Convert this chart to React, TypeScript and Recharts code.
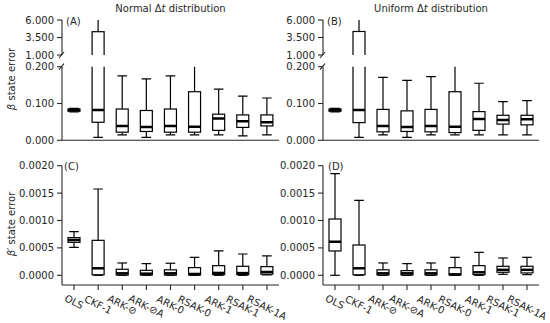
import React from "react";
import { BarChart, Bar, XAxis, YAxis } from "recharts";

const W = 550;
const H = 323;
const YW = 50;
const INK = "#262626";
const FONT = "DejaVu Sans";

const methods = ["OLS", "CKF-1", "ARK-⊘", "ARK-⊘A", "ARK-0", "RSAK-0", "ARK-1", "RSAK-1", "RSAK-1A"];

// [low whisker, q1, median, q3, high whisker] for each method
const betaNormal = [
  [0.077, 0.079, 0.082, 0.085, 0.087],
  [0.008, 0.049, 0.082, 4.33, 6.5],
  [0.015, 0.022, 0.039, 0.085, 0.175],
  [0.008, 0.024, 0.036, 0.081, 0.167],
  [0.015, 0.022, 0.039, 0.085, 0.175],
  [0.015, 0.022, 0.037, 0.132, 0.23],
  [0.015, 0.027, 0.059, 0.071, 0.139],
  [0.012, 0.035, 0.052, 0.069, 0.12],
  [0.015, 0.039, 0.049, 0.069, 0.115],
];

const betaUniform = [
  [0.077, 0.079, 0.082, 0.085, 0.087],
  [0.008, 0.048, 0.082, 4.36, 6.5],
  [0.015, 0.023, 0.039, 0.084, 0.171],
  [0.008, 0.024, 0.036, 0.08, 0.163],
  [0.015, 0.023, 0.039, 0.084, 0.173],
  [0.015, 0.021, 0.037, 0.132, 0.23],
  [0.015, 0.027, 0.058, 0.078, 0.155],
  [0.015, 0.044, 0.055, 0.068, 0.105],
  [0.015, 0.042, 0.057, 0.068, 0.108],
];

const dBetaNormal = [
  [0.00051, 0.000602, 0.000645, 0.000687, 0.000797],
  [0, 0.00001, 0.000128, 0.000638, 0.001575],
  [0, 0.000006, 0.000036, 0.00011, 0.000225],
  [0, 0.000006, 0.00003, 0.000091, 0.000213],
  [0, 0.000006, 0.000036, 0.0001, 0.00022],
  [0, 0.000006, 0.000024, 0.00014, 0.000328],
  [0, 0.000012, 0.000043, 0.000176, 0.000444],
  [0, 0.000012, 0.00004, 0.000164, 0.000389],
  [0.000006, 0.00002, 0.00006, 0.000158, 0.000353],
];

const dBetaUniform = [
  [0, 0.000444, 0.000614, 0.001027, 0.001855],
  [0, 0.00001, 0.000128, 0.000553, 0.001368],
  [0, 0.000006, 0.000036, 0.0001, 0.000225],
  [0, 0.000006, 0.000036, 0.000085, 0.000213],
  [0, 0.000006, 0.000036, 0.0001, 0.000225],
  [0, 0.000006, 0.000018, 0.00014, 0.000328],
  [0, 0.000012, 0.000055, 0.000176, 0.00042],
  [0.000018, 0.000055, 0.0001, 0.000164, 0.000316],
  [0.000012, 0.000043, 0.0001, 0.000164, 0.000328],
];

const upperTicks = [1, 3.5, 6];
const lowerTicks = [0, 0.1, 0.2];
const smallTicks = [0, 0.0005, 0.001, 0.0015, 0.002];

// box drawn inside the bar that spans low..high whisker
const BoxShape = (props: any) => {
  const { x, y, width, height, payload } = props;
  if (x == null || y == null || !payload) return null;
  const [lo, q1, med, q3, hi] = payload.stats;
  const top = Math.min(y, y + height);
  const bot = Math.max(y, y + height);
  const py = (v: number) => bot - ((v - lo) / (hi - lo)) * (bot - top);
  const cx = x + width / 2;
  const cap = width * 0.4;
  return (
    <g stroke="#000" fill="none" strokeWidth={1.2}>
      <line x1={cx} x2={cx} y1={py(hi)} y2={py(q3)} />
      <line x1={cx} x2={cx} y1={py(q1)} y2={py(lo)} />
      <line x1={cx - cap} x2={cx + cap} y1={py(hi)} y2={py(hi)} />
      <line x1={cx - cap} x2={cx + cap} y1={py(lo)} y2={py(lo)} />
      <rect x={x} y={py(q3)} width={width} height={py(q1) - py(q3)} fill="#fff" />
      <line x1={x} x2={x + width} y1={py(med)} y2={py(med)} strokeWidth={2.5} />
    </g>
  );
};

const SlantTick = (props: any) => {
  const { x, y, payload } = props;
  const label = String(payload.value);
  const a = (27 * Math.PI) / 180;
  const w = label.length * 6.4;
  const cy = y + 2 + (w * Math.sin(a) + 10 * Math.cos(a)) / 2;
  return (
    <text
      x={x}
      y={cy}
      transform={`rotate(27, ${x}, ${cy})`}
      textAnchor="middle"
      dominantBaseline="central"
      fontSize={10}
      fontFamily={FONT}
      fill={INK}
    >
      {label}
    </text>
  );
};

type Plot = { left: number; right: number; top: number; bottom: number };

function Panel(p: {
  stats: number[][];
  plot: Plot;
  domain: [number, number];
  ticks: number[];
  digits: number;
  axis: "none" | "plain" | "labels";
  breakAt?: number;
}) {
  const rows = methods.map((name, i) => ({
    name,
    range: [p.stats[i][0], p.stats[i][4]],
    stats: p.stats[i],
  }));
  const xh = p.axis === "none" ? 0 : p.axis === "plain" ? 10 : 40;
  const margin = {
    left: p.plot.left - YW,
    right: W - p.plot.right,
    top: p.plot.top,
    bottom: H - p.plot.bottom - xh,
  };
  const axisX = p.plot.left;

  const ValueTick = (t: any) => {
    const v = t.payload.value;
    return (
      <g>
        <text x={t.x} y={t.y} textAnchor="end" dominantBaseline="central" fontSize={10} fontFamily={FONT} fill={INK}>
          {v.toFixed(p.digits)}
        </text>
        {p.breakAt === v && (
          <line x1={axisX - 3} y1={t.y + 3} x2={axisX + 2} y2={t.y - 3} stroke={INK} strokeWidth={1.1} />
        )}
      </g>
    );
  };

  return (
    <div style={{ position: "absolute", left: 0, top: 0 }}>
      <BarChart width={W} height={H} data={rows} margin={margin}>
        <XAxis
          dataKey="name"
          hide={p.axis === "none"}
          height={xh}
          interval={0}
          tickSize={5}
          tickMargin={1}
          axisLine={{ stroke: INK, strokeWidth: 1.1 }}
          tickLine={{ stroke: INK, strokeWidth: 1.1 }}
          tick={p.axis === "labels" ? <SlantTick /> : false}
        />
        <YAxis
          type="number"
          domain={p.domain}
          ticks={p.ticks}
          interval={0}
          allowDataOverflow
          width={YW}
          tickSize={5}
          tickMargin={3}
          axisLine={{ stroke: INK, strokeWidth: 1.1 }}
          tickLine={{ stroke: INK, strokeWidth: 1.1 }}
          tick={<ValueTick />}
        />
        <Bar dataKey="range" barSize={12} shape={BoxShape} isAnimationActive={false} />
      </BarChart>
    </div>
  );
}

const leftX = { left: 62, right: 279 };
const rightX = { left: 323, right: 539 };
const smallDomain: [number, number] = [-0.000177, 0.002];

export default function App() {
  const txt = { fontSize: 10, fontFamily: FONT, fill: INK };
  return (
    <div style={{ position: "absolute", left: 0, top: 0, width: W, height: H, background: "#fff" }}>
      <Panel stats={betaNormal} plot={{ ...leftX, top: 20, bottom: 55 }} domain={[1, 6]} ticks={upperTicks} digits={3} axis="none" breakAt={1} />
      <Panel stats={betaNormal} plot={{ ...leftX, top: 66.7, bottom: 140.3 }} domain={[0, 0.2]} ticks={lowerTicks} digits={3} axis="plain" breakAt={0.2} />
      <Panel stats={betaUniform} plot={{ ...rightX, top: 20, bottom: 55 }} domain={[1, 6]} ticks={upperTicks} digits={3} axis="none" breakAt={1} />
      <Panel stats={betaUniform} plot={{ ...rightX, top: 66.7, bottom: 140.3 }} domain={[0, 0.2]} ticks={lowerTicks} digits={3} axis="plain" breakAt={0.2} />
      <Panel stats={dBetaNormal} plot={{ ...leftX, top: 165.7, bottom: 285 }} domain={smallDomain} ticks={smallTicks} digits={4} axis="labels" />
      <Panel stats={dBetaUniform} plot={{ ...rightX, top: 165.7, bottom: 285 }} domain={smallDomain} ticks={smallTicks} digits={4} axis="labels" />
      <svg width={W} height={H} style={{ position: "absolute", left: 0, top: 0 }}>
        <text x={170.5} y={12} textAnchor="middle" {...txt}>
          Normal Δ<tspan fontStyle="italic">t</tspan> distribution
        </text>
        <text x={431} y={12} textAnchor="middle" {...txt}>
          Uniform Δ<tspan fontStyle="italic">t</tspan> distribution
        </text>
        <text x={66} y={25} {...txt}>(A)</text>
        <text x={327} y={25} {...txt}>(B)</text>
        <text x={64} y={169.5} {...txt}>(C)</text>
        <text x={328} y={169.5} {...txt}>(D)</text>
        <text x={15} y={79} transform="rotate(-90, 15, 79)" textAnchor="middle" {...txt}>
          <tspan fontStyle="italic">β</tspan> state error
        </text>
        <text x={15} y={224} transform="rotate(-90, 15, 224)" textAnchor="middle" {...txt}>
          <tspan fontStyle="italic">β′</tspan> state error
        </text>
      </svg>
    </div>
  );
}
